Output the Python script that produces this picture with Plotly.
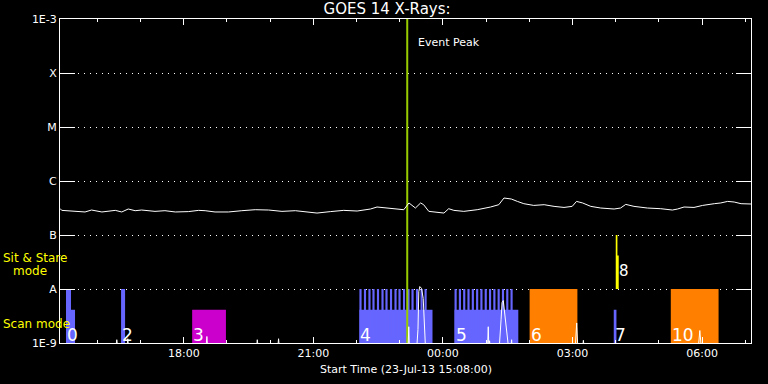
import pandas as pd
import plotly.graph_objects as go

# ---------------- data ----------------
START = pd.Timestamp("2013-07-23 15:08:00")
SPAN_HOURS = 16.0
EVENT_PEAK_H = 8.04

# GOES long channel (hours since start, W/m^2)
LONG_H = [0.00, 0.04, 0.58, 0.73, 0.97, 1.28, 1.43, 1.58, 1.74, 1.89, 2.20, 2.43, 2.67, 2.97, 3.21,
          3.36, 3.59, 3.90, 4.21, 4.52, 4.83, 5.14, 5.45, 5.64, 5.95, 6.26, 6.57, 6.88, 7.19, 7.34,
          7.65, 7.96, 8.08, 8.23, 8.35, 8.42, 8.54, 8.89, 9.00, 9.12, 9.35, 9.66, 9.97, 10.16, 10.28,
          10.45, 10.59, 10.74, 10.97, 11.21, 11.44, 11.67, 11.86, 11.96, 12.10, 12.29, 12.52, 12.83,
          12.98, 13.10, 13.29, 13.60, 13.91, 14.18, 14.30, 14.45, 14.68, 14.88, 15.15, 15.30, 15.46,
          15.61, 15.77, 16.00]
LONG_FLUX = [3.10e-7, 2.86e-7, 2.67e-7, 2.90e-7, 2.67e-7, 2.86e-7, 2.67e-7, 3.03e-7, 2.82e-7, 2.90e-7,
             2.74e-7, 2.82e-7, 2.67e-7, 2.71e-7, 2.86e-7, 2.82e-7, 2.67e-7, 2.67e-7, 2.82e-7, 2.94e-7,
             2.90e-7, 2.74e-7, 2.82e-7, 2.71e-7, 2.55e-7, 2.71e-7, 2.86e-7, 2.78e-7, 3.03e-7, 3.30e-7,
             3.16e-7, 2.94e-7, 3.92e-7, 3.16e-7, 3.92e-7, 3.64e-7, 2.74e-7, 2.55e-7, 3.07e-7, 2.86e-7,
             2.74e-7, 2.94e-7, 3.30e-7, 3.64e-7, 4.84e-7, 4.64e-7, 4.19e-7, 3.80e-7, 3.53e-7, 3.64e-7,
             3.39e-7, 3.24e-7, 3.39e-7, 4.19e-7, 3.92e-7, 3.39e-7, 3.16e-7, 3.03e-7, 3.16e-7, 3.69e-7,
             3.39e-7, 3.16e-7, 3.07e-7, 2.90e-7, 3.03e-7, 3.30e-7, 3.24e-7, 3.53e-7, 3.80e-7, 3.92e-7,
             4.19e-7, 4.08e-7, 3.80e-7, 3.75e-7]

# low-level series (mostly below 1E-9)
SHORT_H = [0.00, 1.29, 1.315, 1.34, 1.55, 1.570, 1.59, 3.38, 3.401, 3.42, 4.55, 4.568, 4.59,
           5.04, 5.061, 5.08, 8.06, 8.076, 8.09, 8.26, 8.289, 8.308, 8.331, 8.370, 8.410, 8.423, 8.463,
           9.90, 9.916, 9.93, 9.947, 9.96, 10.17, 10.213, 10.236, 10.264, 10.294, 10.329, 10.364, 10.387,
           10.44, 10.457, 10.47, 11.93, 11.964, 11.99, 12.10, 12.119, 12.14, 14.78, 14.815, 14.85, 16.00]
SHORT_FLUX = [8e-10, 8e-10, 1.15e-9, 8e-10, 8e-10, 1.2e-9, 8e-10, 8e-10, 1.32e-9, 8e-10, 8e-10, 1.15e-9, 8e-10,
              8e-10, 1.2e-9, 8e-10, 8e-10, 2.0e-9, 8e-10, 8e-10, 1.78e-9, 8.9e-9, 1.11e-8, 1.03e-8, 6.7e-9, 3.3e-9, 8e-10,
              8e-10, 2.0e-9, 8e-10, 1.1e-9, 8e-10, 8e-10, 2.7e-9, 5.6e-9, 6.1e-9, 3.9e-9, 2.5e-9, 1.4e-9, 8e-10,
              8e-10, 1.15e-9, 8e-10, 8e-10, 2.35e-9, 8e-10, 8e-10, 1.12e-9, 8e-10, 8e-10, 1.7e-9, 8e-10, 8e-10]

# observing modes (hours since start)
MODE_BASE = 1e-9
SCAN_FULL = 1e-8
SCAN_PART = 4.14e-9
BLUE_FULL_START = [0.139, 1.414]
BLUE_FULL_END = [0.255, 1.507]
BLUE_PART_START = [0.255, 6.933, 9.135, 12.822]
BLUE_PART_END = [0.348, 8.625, 10.612, 12.884]
TEETH_START = [6.933, 7.037, 7.141, 7.234, 7.338, 7.443, 7.535, 7.640, 7.744, 7.837, 7.941, 8.045,
               8.138, 8.242, 8.347, 8.440,
               9.135, 9.235, 9.335, 9.434, 9.534, 9.634, 9.733, 9.833, 9.933, 10.033, 10.132, 10.232,
               10.332, 10.431]
TOOTH_MINUTES = 3.0
MAGENTA_START = [3.060]
MAGENTA_END = [3.842]
ORANGE_START = [10.874, 14.143]
ORANGE_END = [11.980, 15.249]
SIT_START = [12.868, 12.868]
SIT_END = [12.907, 12.937]
SIT_TOP = [1e-7, 4.19e-8]

REGION_LABELS = ["0", "2", "3", "4", "5", "6", "7", "10"]
REGION_LABEL_H = [0.139, 1.414, 3.060, 6.933, 9.135, 10.874, 12.822, 14.143]
SIT_LABEL = "8"
SIT_LABEL_H = 12.937

Y_TICKVALS = [1e-9, 1e-8, 1e-7, 1e-6, 1e-5, 1e-4, 1e-3]
Y_TICKTEXT = ["1E-9", "A", "B", "C", "M", "X", "1E-3"]


def tstr(h):
    ts = START + pd.to_timedelta(h, unit="h")
    return ts.strftime("%Y-%m-%d %H:%M:%S.%f")


def rects(starts, ends, tops, base):
    xs, ys = [], []
    for s, e, top in zip(starts, ends, tops):
        xs += [tstr(s), tstr(e), tstr(e), tstr(s), tstr(s), None]
        ys += [base, base, top, top, base, None]
    return xs, ys


FONT = "DejaVu Sans"
fig = go.Figure()


def add_rects(starts, ends, tops, color):
    xs, ys = rects(starts, ends, tops, MODE_BASE)
    fig.add_trace(go.Scatter(x=xs, y=ys, mode="lines", fill="toself", fillcolor=color,
                             line=dict(width=0, color=color), hoverinfo="skip"))


add_rects(BLUE_PART_START, BLUE_PART_END, [SCAN_PART] * len(BLUE_PART_START), "#6666ff")
add_rects(BLUE_FULL_START, BLUE_FULL_END, [SCAN_FULL] * len(BLUE_FULL_START), "#6666ff")
add_rects(TEETH_START, [s + TOOTH_MINUTES / 60 for s in TEETH_START], [SCAN_FULL] * len(TEETH_START), "#6666ff")
add_rects(MAGENTA_START, MAGENTA_END, [SCAN_PART] * len(MAGENTA_START), "#cc00cc")
add_rects(ORANGE_START, ORANGE_END, [SCAN_FULL] * len(ORANGE_START), "#ff8000")
xs, ys = rects(SIT_START, SIT_END, SIT_TOP, 1e-8)
fig.add_trace(go.Scatter(x=xs, y=ys, mode="lines", fill="toself", fillcolor="#ffff00",
                         line=dict(width=0, color="#ffff00"), hoverinfo="skip"))

# event peak line
fig.add_trace(go.Scatter(x=[tstr(EVENT_PEAK_H), tstr(EVENT_PEAK_H)], y=[1e-9, 1e-3], mode="lines",
                         line=dict(color="#99cc00", width=2), hoverinfo="skip"))

fig.add_trace(go.Scatter(x=[tstr(h) for h in SHORT_H], y=SHORT_FLUX, mode="lines",
                         line=dict(color="white", width=1), hoverinfo="skip"))
fig.add_trace(go.Scatter(x=[tstr(h) for h in LONG_H], y=LONG_FLUX, mode="lines",
                         line=dict(color="white", width=1), hoverinfo="skip"))

annotations = []
for lab, h in zip(REGION_LABELS, REGION_LABEL_H):
    annotations.append(dict(x=tstr(h), y=-9, xref="x", yref="y", text=lab, showarrow=False,
                            xanchor="left", yanchor="bottom", yshift=-4, xshift=-1,
                            font=dict(family=FONT, size=17, color="white")))
annotations.append(dict(x=tstr(SIT_LABEL_H), y=-7.67, xref="x", yref="y", text=SIT_LABEL, showarrow=False,
                        xanchor="left", yanchor="middle", xshift=-2,
                        font=dict(family=FONT, size=15, color="white")))
annotations.append(dict(x=tstr(EVENT_PEAK_H), y=-3.44, xref="x", yref="y", text="Event Peak",
                        showarrow=False, xanchor="left", yanchor="middle", xshift=9,
                        font=dict(family=FONT, size=11, color="white")))
PW, PH, L, B = 691, 324, 60, 41
def px(xp):
    return (xp - L) / PW
def py(yp):
    return (384 - B - yp) / PH
annotations.append(dict(x=px(1), y=py(258), xref="paper", yref="paper", text="Sit & Stare",
                        showarrow=False, xanchor="left", yanchor="middle",
                        font=dict(family=FONT, size=12, color="#ffff00")))
annotations.append(dict(x=px(11), y=py(271), xref="paper", yref="paper", text="mode",
                        showarrow=False, xanchor="left", yanchor="middle",
                        font=dict(family=FONT, size=12, color="#ffff00")))
annotations.append(dict(x=px(1), y=py(324), xref="paper", yref="paper", text="Scan mode",
                        showarrow=False, xanchor="left", yanchor="middle",
                        font=dict(family=FONT, size=12, color="#ffff00")))
annotations.append(dict(x=0.5, y=py(369), xref="paper", yref="paper",
                        text="Start Time (23-Jul-13 15:08:00)",
                        showarrow=False, xanchor="center", yanchor="middle",
                        font=dict(family=FONT, size=11, color="white")))

fig.update_layout(
    width=768, height=384,
    margin=dict(l=L, r=768 - L - PW, t=384 - B - PH, b=B),
    paper_bgcolor="black", plot_bgcolor="black",
    showlegend=False,
    title=dict(text="GOES 14 X-Rays:", x=0.504, xref="container", y=1 - 9 / 384, yref="container",
               xanchor="center", yanchor="middle", font=dict(family=FONT, size=15, color="white")),
    annotations=annotations,
    xaxis=dict(type="date", range=[tstr(0), tstr(SPAN_HOURS)], tickformat="%H:%M",
               tick0="2013-07-23 18:00:00", dtick=3 * 3600000,
               ticks="inside", ticklen=6, tickcolor="white", tickwidth=1,
               minor=dict(dtick=3600000, tick0="2013-07-23 16:00:00", ticks="inside", ticklen=3,
                          tickcolor="white", showgrid=False),
               showline=True, linecolor="white", linewidth=1, mirror="ticks",
               showgrid=False, zeroline=False, automargin=False,
               tickfont=dict(family=FONT, size=11, color="white")),
    yaxis=dict(type="log", range=[-9, -3], tickvals=Y_TICKVALS, ticktext=Y_TICKTEXT,
               ticks="inside", ticklen=15, tickcolor="white", tickwidth=1,
               showline=True, linecolor="white", linewidth=1, mirror="ticks",
               showgrid=True, gridcolor="white", gridwidth=1, griddash="1px,5px",
               zeroline=False, automargin=False,
               tickfont=dict(family=FONT, size=11, color="white")),
)

fig.write_html("out.html", config={"displayModeBar": False},
               post_script="document.body.style.margin='0';document.body.style.background='black';")
